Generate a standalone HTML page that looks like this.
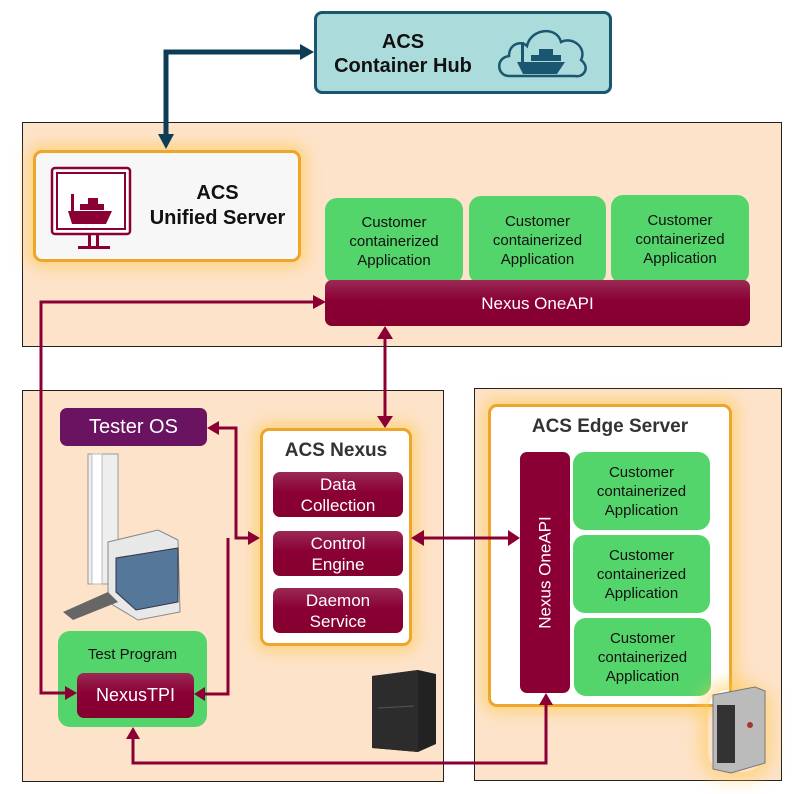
<!DOCTYPE html>
<html><head><meta charset="utf-8"><style>
body{margin:0;width:812px;height:794px;background:#fff;position:relative;overflow:hidden;font-family:"Liberation Sans",sans-serif}
.a{position:absolute;box-sizing:border-box}
.panel{background:#fde3c9;border:1px solid #222}
.green{background:#54d56c;border-radius:12px;display:flex;align-items:center;justify-content:center;text-align:center;font-size:15px;line-height:19px;color:#111}
.mar{background:linear-gradient(#9a2a55,#8a0035 45%,#85002f);border-radius:7px;color:#fff;display:flex;align-items:center;justify-content:center;text-align:center;font-size:17px;line-height:21px}
.glow{border:3px solid #eda52c;border-radius:9px;box-shadow:0 0 14px 6px rgba(255,200,80,.55)}
</style></head><body>
<div class="a" style="left:314px;top:11px;width:298px;height:83px;background:#abdcdb;border:3px solid #1b5670;border-radius:8px"></div>
<div class="a" style="left:328px;top:30px;width:150px;text-align:center;font-weight:bold;font-size:20px;line-height:24px;color:#111">ACS<br>Container Hub</div>
<svg class="a" style="left:495px;top:24px" width="96" height="58" viewBox="0 0 96 58"><path d="M14 52 C2 52 0 34 14 32 C14 20 26 16 32 22 C36 4 62 2 66 18 C78 12 92 24 86 36 C96 44 88 54 80 52 Z" fill="#abdcdb" stroke="#1b5670" stroke-width="2.5"/><path d="M22 38 H70 L62 50 H28 Z" fill="#1b5670"/><rect x="26" y="18" width="3" height="20" fill="#1b5670"/><rect x="36" y="31" width="30" height="6" fill="#1b5670"/><rect x="44" y="25" width="14" height="6" fill="#1b5670"/></svg>

<div class="a panel" style="left:22px;top:122px;width:760px;height:225px"></div>
<div class="a panel" style="left:22px;top:390px;width:422px;height:392px"></div>
<div class="a panel" style="left:474px;top:388px;width:308px;height:393px"></div>

<div class="a glow" style="left:33px;top:150px;width:268px;height:112px;background:#f7f7f7"></div>
<svg class="a" style="left:50px;top:166px" width="82" height="86" viewBox="0 0 82 86"><rect x="2" y="2" width="78" height="66" rx="3" fill="#fff" stroke="#8a0035" stroke-width="2.5"/><rect x="7" y="7" width="68" height="56" fill="none" stroke="#8a0035" stroke-width="2"/><path d="M18 45 H62 L56 58 H22Z" fill="#8a0035"/><rect x="21" y="28" width="3" height="17" fill="#8a0035"/><rect x="30" y="38" width="24" height="6" fill="#8a0035"/><rect x="38" y="32" width="10" height="6" fill="#8a0035"/><rect x="38" y="68" width="3" height="14" fill="#8a0035"/><rect x="46" y="68" width="3" height="14" fill="#8a0035"/><rect x="28" y="80" width="32" height="3" fill="#8a0035"/></svg>
<div class="a" style="left:140px;top:181px;width:155px;text-align:center;font-weight:bold;font-size:20px;line-height:25px;color:#111">ACS<br>Unified Server</div>

<div class="a green" style="left:325px;top:198px;width:138px;height:86px">Customer<br>containerized<br>Application</div>
<div class="a green" style="left:469px;top:196px;width:137px;height:88px">Customer<br>containerized<br>Application</div>
<div class="a green" style="left:611px;top:195px;width:138px;height:89px">Customer<br>containerized<br>Application</div>
<div class="a mar" style="left:325px;top:280px;width:425px;height:46px">Nexus OneAPI</div>

<div class="a" style="left:60px;top:408px;width:147px;height:38px;background:#6a1360;border-radius:7px;color:#fff;font-size:20px;display:flex;align-items:center;justify-content:center">Tester OS</div>

<svg class="a" style="left:58px;top:452px" width="130" height="170" viewBox="0 0 130 170"><rect x="30" y="2" width="30" height="130" fill="#eee" stroke="#999"/><rect x="34" y="2" width="10" height="130" fill="#fff" stroke="#bbb"/><path d="M50 90 L100 78 L120 88 L122 160 L80 168 L50 150Z" fill="#e8e8e8" stroke="#888"/><path d="M58 106 L120 96 L120 150 L78 158 L58 140Z" fill="#557799" stroke="#334"/><path d="M5 160 L50 140 L60 150 L15 168Z" fill="#666"/></svg>

<div class="a glow" style="left:260px;top:428px;width:152px;height:218px;background:#fff"></div>
<div class="a" style="left:260px;top:440px;width:152px;text-align:center;font-weight:bold;font-size:19px;color:#333">ACS Nexus</div>
<div class="a mar" style="left:273px;top:472px;width:130px;height:45px">Data<br>Collection</div>
<div class="a mar" style="left:273px;top:531px;width:130px;height:45px">Control<br>Engine</div>
<div class="a mar" style="left:273px;top:588px;width:130px;height:45px">Daemon<br>Service</div>

<div class="a green" style="left:58px;top:631px;width:149px;height:96px;align-items:flex-start;padding-top:14px;font-size:15px">Test Program</div>
<div class="a mar" style="left:77px;top:673px;width:117px;height:45px;font-size:18px">NexusTPI</div>

<svg class="a" style="left:368px;top:668px" width="70" height="86" viewBox="0 0 70 86"><path d="M4 8 L50 2 L68 6 L68 76 L50 84 L4 80Z" fill="#222"/><path d="M4 8 L50 2 L50 84 L4 80Z" fill="#2c2c2c"/><path d="M10 40 L46 38" stroke="#555"/></svg>

<div class="a glow" style="left:488px;top:404px;width:244px;height:303px;background:#fff"></div>
<div class="a" style="left:488px;top:416px;width:244px;text-align:center;font-weight:bold;font-size:19px;color:#333">ACS Edge Server</div>
<div class="a mar" style="left:520px;top:452px;width:50px;height:241px;background:#8a0035"><span style="transform:rotate(-90deg);white-space:nowrap;display:block">Nexus OneAPI</span></div>
<div class="a green" style="left:573px;top:452px;width:137px;height:78px">Customer<br>containerized<br>Application</div>
<div class="a green" style="left:573px;top:535px;width:137px;height:78px">Customer<br>containerized<br>Application</div>
<div class="a green" style="left:574px;top:618px;width:137px;height:78px">Customer<br>containerized<br>Application</div>
<div class="a" style="left:708px;top:690px;width:56px;height:82px;border-radius:20px;box-shadow:0 0 16px 8px rgba(255,200,80,.55)"></div>
<svg class="a" style="left:705px;top:683px" width="62" height="92" viewBox="0 0 62 92"><path d="M8 12 L50 4 L60 8 L60 80 L26 90 L8 86Z" fill="#bbb" stroke="#777"/><rect x="12" y="22" width="18" height="58" fill="#333"/><circle cx="45" cy="42" r="3" fill="#a33"/></svg>

<svg class="a" style="left:0;top:0" width="812" height="794">
<g fill="none" stroke-width="5" stroke="#0d3c55"><path d="M166 134 V52 H300"/></g>
<path d="M300 44 L314 52 L300 60Z M158 134 L166 149 L174 134Z" fill="#0d3c55"/>
<g fill="none" stroke="#8a0035" stroke-width="3">
<path d="M316 302 H41 V693 H66"/>
<path d="M385 338 V418"/>
<path d="M217 428 H236 V538 H250"/>
<path d="M203 694 H228 V538"/>
<path d="M422 538 H510"/>
<path d="M133 738 V763 H546 V704"/>
</g>
<g fill="#8a0035">
<path d="M313 295 L326 302 L313 309Z"/>
<path d="M65 686 L77 693 L65 700Z"/>
<path d="M377 339 L385 326 L393 339Z M377 416 L385 428 L393 416Z"/>
<path d="M219 421 L207 428 L219 435Z"/>
<path d="M248 531 L260 538 L248 545Z"/>
<path d="M205 687 L194 694 L205 701Z"/>
<path d="M424 530 L411 538 L424 546Z M508 530 L520 538 L508 546Z"/>
<path d="M126 739 L133 727 L140 739Z"/>
<path d="M539 705 L546 693 L553 705Z"/>
</g>
</svg>
</body></html>
